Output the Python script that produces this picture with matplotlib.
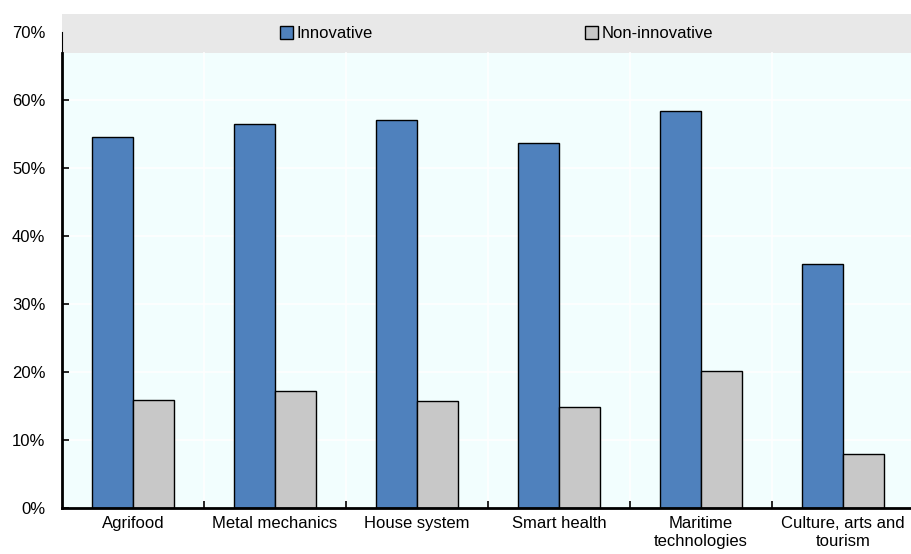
import matplotlib.pyplot as plt
import numpy as np
from matplotlib.patches import Patch

plt.rcParams['font.family'] = ['Liberation Sans', 'DejaVu Sans']

categories = ['Agrifood', 'Metal mechanics', 'House system', 'Smart health',
              'Maritime\ntechnologies', 'Culture, arts and\ntourism']
innovative = [54.6, 56.5, 57.0, 53.7, 58.4, 35.9]
non_innovative = [15.9, 17.2, 15.7, 14.8, 20.1, 8.0]
yticks = [0, 10, 20, 30, 40, 50, 60, 70]

blue = '#4f81bd'
grey = '#c8c8c8'

fig = plt.figure(figsize=(9.12, 5.54), dpi=100)
ax = fig.add_axes([62/912, 46/554, 852/912, 494/554])
ax.set_facecolor('#f2fefe')

x = np.arange(len(categories))
w = 0.29
ax.bar(x - w/2, innovative, w, color=blue, edgecolor='black', linewidth=1, zorder=3)
ax.bar(x + w/2, non_innovative, w, color=grey, edgecolor='black', linewidth=1, zorder=3)

ax.set_xlim(-0.5, len(categories) - 0.5)
ax.set_ylim(0, 72.65)

# legend band
band_low = 66.9
ax.axhspan(band_low, 80, color='#e8e8e8', zorder=1, linewidth=0)

# white gridlines
for yv in yticks[1:-1]:
    ax.plot([-0.5, len(categories) - 0.5], [yv, yv], color='white', lw=1.2, zorder=1.5)
for xv in x[:-1] + 0.5:
    ax.plot([xv, xv], [0, band_low], color='white', lw=1.2, zorder=1.5)

for s in ['top', 'right', 'left']:
    ax.spines[s].set_visible(False)
ax.spines['bottom'].set_linewidth(2)
ax.spines['bottom'].set_zorder(4)
ax.plot([-0.5, -0.5], [0, band_low], color='black', lw=2, zorder=5, clip_on=False)
ax.plot([-0.5, -0.5], [band_low, 70], color='black', lw=0.8, zorder=5, clip_on=False)

ax.set_yticks(yticks)
ax.set_yticklabels([f'{v}%' for v in yticks])
ax.set_xticks(x)
ax.set_xticklabels(categories)
ax.set_xticks(x[:-1] + 0.5, minor=True)
ax.tick_params(axis='x', which='major', length=0, pad=6, labelsize=12)
ax.tick_params(axis='x', which='minor', direction='in', length=5, width=1.2, color='black')
ax.tick_params(axis='y', direction='in', length=5, width=1.2, pad=12, labelsize=12)
ax.yaxis.get_major_ticks()[-1].tick1line.set_visible(False)

handles = [Patch(facecolor=blue, edgecolor='black', linewidth=1),
           Patch(facecolor=grey, edgecolor='black', linewidth=1)]
ax.legend(handles, ['Innovative', 'Non-innovative'], ncol=2, frameon=False,
          loc='center', bbox_to_anchor=(0.51, 0.96), fontsize=12,
          handlelength=0.8, handleheight=0.8, handletextpad=0.2, columnspacing=12.7)

fig.savefig('out.png', dpi=100)
